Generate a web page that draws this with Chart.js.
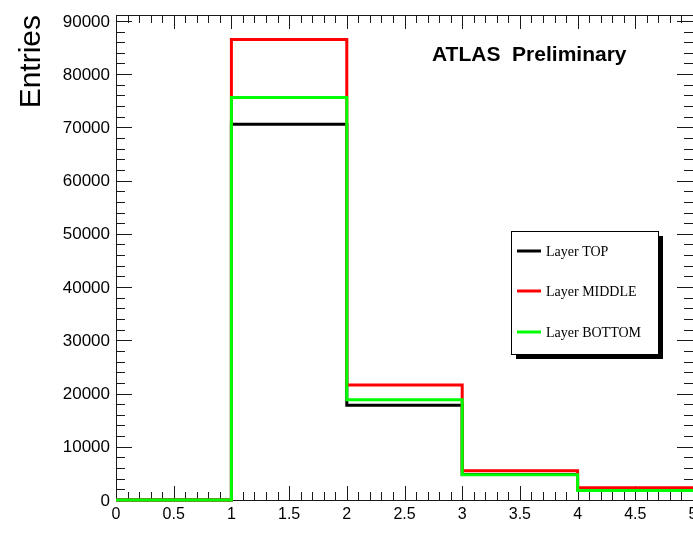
<!DOCTYPE html>
<html>
<head>
<meta charset="utf-8">
<script src="https://cdn.jsdelivr.net/npm/chart.js@4.4.1/dist/chart.umd.min.js"></script>
<style>
    html, body { margin: 0; padding: 0; background: #ffffff; }
    #wrap { width: 693px; height: 534px; }
</style>
</head>
<body>
<div id="wrap"><canvas id="histCanvas" width="693" height="534"></canvas></div>
<script>
// --- Data ---
const binEdges = [0, 1, 2, 3, 4, 5];
const layerTop = [0, 70600, 17800, 4800, 2050];
const layerMiddle = [0, 86500, 21600, 5500, 2300];
const layerBottom = [0, 75600, 18850, 4750, 1800];
const seriesNames = ["Layer TOP", "Layer MIDDLE", "Layer BOTTOM"];
const xTickStep = 0.5;
const yTickStep = 10000;

const labelFont = "'Liberation Sans', Arial, sans-serif";

// --- Histogram outline: each bin value held until the next edge ---
function toSteps(values) {
    return binEdges.map((edge, i) => ({ x: edge, y: values[Math.min(i, values.length - 1)] }));
}

// --- ROOT-like frame with inward ticks ---
const frameTicks = {
    id: "frameTicks",
    beforeDatasetsDraw(chart) {
        const { ctx, chartArea: a, scales: { x, y } } = chart;
        ctx.save();
        ctx.strokeStyle = "#1a1a1a";
        ctx.lineWidth = 1;
        ctx.beginPath();
        ctx.rect(a.left + 0.5, a.top + 0.5, a.right - a.left, a.bottom - a.top);
        ctx.stroke();

        ctx.beginPath();
        // x ticks, bottom and top
        for (let i = 0; i <= 50; i++) {
            const v = i * 0.1;
            const px = Math.round(x.getPixelForValue(v)) + 0.5;
            const len = i % 5 === 0 ? 14 : 8;
            ctx.moveTo(px, a.bottom); ctx.lineTo(px, a.bottom - len);
            ctx.moveTo(px, a.top); ctx.lineTo(px, a.top + len);
        }
        // y ticks, left and right
        for (let v = 0; v <= y.max; v += 2000) {
            const py = Math.round(y.getPixelForValue(v)) + 0.5;
            const len = v % 10000 === 0 ? 16 : 9;
            ctx.moveTo(a.left, py); ctx.lineTo(a.left + len, py);
            ctx.moveTo(a.right, py); ctx.lineTo(a.right - len, py);
        }
        ctx.stroke();

        // y tick labels
        ctx.fillStyle = "#000";
        ctx.font = "17px " + labelFont;
        ctx.textAlign = "right";
        ctx.textBaseline = "middle";
        for (let v = 0; v <= y.max; v += yTickStep) {
            ctx.fillText(String(v), a.left - 6, y.getPixelForValue(v) + 1);
        }
        ctx.restore();
    },
    afterDraw(chart) {
        const { ctx } = chart;
        ctx.save();

        // --- ATLAS label ---
        ctx.fillStyle = "#000";
        ctx.font = "bold 21px " + labelFont;
        ctx.textBaseline = "alphabetic";
        ctx.fillText("ATLAS  Preliminary", 432, 61);

        // --- Legend box with shadow ---
        const box = { x: 511, y: 231, w: 147, h: 123 };
        ctx.fillStyle = "#000";
        ctx.fillRect(box.x + 5, box.y + 5, box.w, box.h);
        ctx.fillStyle = "#fff";
        ctx.fillRect(box.x, box.y, box.w, box.h);
        ctx.strokeStyle = "#000";
        ctx.lineWidth = 1;
        ctx.strokeRect(box.x + 0.5, box.y + 0.5, box.w, box.h);

        ctx.font = "14px 'Liberation Serif', 'Times New Roman', serif";
        ctx.textBaseline = "middle";
        const rows = [251, 291, 332];
        chart.data.datasets.forEach((ds, i) => {
            ctx.strokeStyle = ds.borderColor;
            ctx.lineWidth = 3;
            ctx.beginPath();
            ctx.moveTo(517, rows[i]);
            ctx.lineTo(541, rows[i]);
            ctx.stroke();
            ctx.fillStyle = "#000";
            ctx.fillText(ds.label, 546, rows[i] + 1);
        });
        ctx.restore();
    }
};

const colors = ["#000000", "#ff0000", "#00ff00"];
const datasets = [layerTop, layerMiddle, layerBottom].map((vals, i) => ({
    label: seriesNames[i],
    data: toSteps(vals),
    borderColor: colors[i],
    borderWidth: 3,
    stepped: "before",
    tension: 0,
    fill: false,
    pointRadius: 0,
    clip: 4,
    order: 2 - i
}));

const ctx = document.getElementById("histCanvas").getContext("2d");
new Chart(ctx, {
    type: "line",
    data: { datasets },
    options: {
        responsive: false,
        animation: false,
        layout: { padding: { top: 15, right: 0, left: 0, bottom: 0 } },
        plugins: { legend: { display: false }, tooltip: { enabled: false } },
        scales: {
            x: {
                type: "linear",
                min: 0,
                max: 5,
                grid: { display: false, drawTicks: false },
                border: { display: false },
                ticks: {
                    stepSize: xTickStep,
                    padding: 5,
                    color: "#000",
                    maxRotation: 0,
                    autoSkip: false,
                    callback: v => String(v),
                    font: { size: 16, family: labelFont }
                },
                afterFit(scale) {
                    scale.height = 34;
                    scale.paddingLeft = 0;
                    scale.paddingRight = 0;
                }
            },
            y: {
                min: 0,
                max: 91100,
                grid: { display: false, drawTicks: false },
                border: { display: false },
                ticks: { display: false, stepSize: yTickStep },
                title: {
                    display: true,
                    text: "Entries",
                    align: "end",
                    color: "#000",
                    padding: { top: 14, bottom: 0 },
                    font: { size: 30, family: labelFont }
                },
                afterFit(scale) {
                    scale.width = 116;
                    scale.paddingTop = 0;
                    scale.paddingBottom = 0;
                }
            }
        }
    },
    plugins: [frameTicks]
});
</script>
</body>
</html>
